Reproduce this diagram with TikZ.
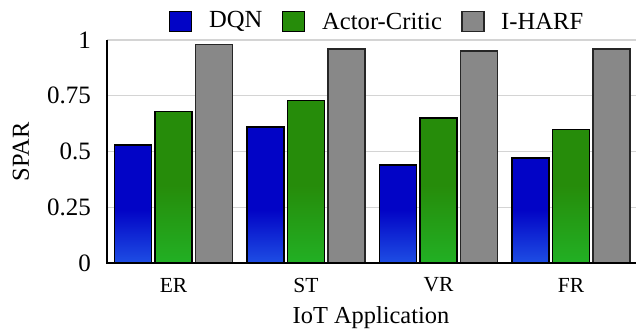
\documentclass[tikz,border=0pt]{standalone}
\usepackage{fontspec}
\setmainfont{Liberation Serif}
\definecolor{dqnTop}{RGB}{2,4,198}
\definecolor{dqnBot}{RGB}{30,78,228}
\definecolor{acTop}{RGB}{38,140,10}
\definecolor{acBot}{RGB}{34,176,36}
\definecolor{harf}{RGB}{136,136,136}
\definecolor{gridc}{RGB}{212,212,212}
\tikzset{
  barline/.style={draw=black,line width=1.4pt},
  gridline/.style={draw=gridc,line width=1.4pt},
  axisline/.style={draw=black,line width=1.4pt},
  ticklab/.style={anchor=east,font=\fontsize{25}{28}\selectfont,inner sep=0pt},
  catlab/.style={font=\fontsize{21.5}{24}\selectfont,inner sep=0pt},
  titlelab/.style={font=\fontsize{24.4}{27}\selectfont,inner sep=0pt},
  legtext/.style={anchor=west,font=\fontsize{24.6}{27}\selectfont,inner sep=0pt},
  legbox/.style={draw=black,line width=1.2pt,minimum width=22pt,minimum height=20pt,inner sep=0pt},
}
% #1 left edge, #2 value
\newcommand\dqnbar[2]{%
  \fill[dqnTop] (#1,{263-223*#2}) rectangle ({#1+37},210);
  \shade[top color=dqnTop,bottom color=dqnBot] (#1,210) rectangle ({#1+37},263);
  \draw[barline] (#1,263) rectangle ({#1+37},{263-223*#2});}
\newcommand\acbar[2]{%
  \fill[acTop] (#1,{263-223*#2}) rectangle ({#1+37},185);
  \shade[top color=acTop,bottom color=acBot] (#1,185) rectangle ({#1+37},263);
  \draw[barline] (#1,263) rectangle ({#1+37},{263-223*#2});}
\newcommand\harfbar[2]{%
  \fill[harf] (#1,{263-223*#2}) rectangle ({#1+37},263);
  \draw[barline,draw=black!85] (#1,263) rectangle ({#1+37},{263-223*#2});}
\begin{document}
\begin{tikzpicture}[x=1pt,y=-1pt]
\useasboundingbox (0,0) rectangle (636,332);
% grid
\foreach \v in {0.25,0.5,0.75,1}
  \draw[gridline] (107,{263-223*\v}) -- (636,{263-223*\v});
% tick labels
\node[ticklab] (t0) at (91,263) {0};
\node[ticklab] (t1) at (91,{263-223*0.25}) {0.25};
\node[ticklab] (t2) at (91,{263-223*0.5}) {0.5};
\node[ticklab] (t3) at (91,{263-223*0.75}) {0.75};
\node[ticklab] (t4) at (91,{263-223*1}) {1};
% bars
\dqnbar{114.5}{0.53}\acbar{155}{0.68}\harfbar{195.5}{0.98}
\dqnbar{247}{0.61}\acbar{287.5}{0.73}\harfbar{328}{0.96}
\dqnbar{379.5}{0.44}\acbar{420}{0.65}\harfbar{460.5}{0.95}
\dqnbar{512}{0.47}\acbar{552.5}{0.60}\harfbar{593}{0.96}
% axes
\draw[axisline] (107,40) -- (107,263) -- (636,263);
% category labels
\node[catlab] (er) at (173.5,285) {ER};
\node[catlab] (st) at (306,285) {ST};
\node[catlab] (vr) at (438.5,285) {VR};
\node[catlab] (fr) at (571,285) {FR};
% axis titles
\node[titlelab] (xt) at (371,318) {IoT Application};
\node[titlelab,rotate=90] (yt) at (21,152) {SPAR};
% legend
\node[legbox,fill=dqnTop] (l1) at (180.5,21.5) {};
\node[legtext] (l1t) at (209,21) {DQN};
\node[legbox,fill=acTop] (l2) at (293.5,21.5) {};
\node[legtext] (l2t) at (322,21) {Actor-Critic};
\node[legbox,fill=harf,draw=black!85] (l3) at (473,21.5) {};
\node[legtext] (l3t) at (501,21) {I-HARF};
\end{tikzpicture}
\end{document}
